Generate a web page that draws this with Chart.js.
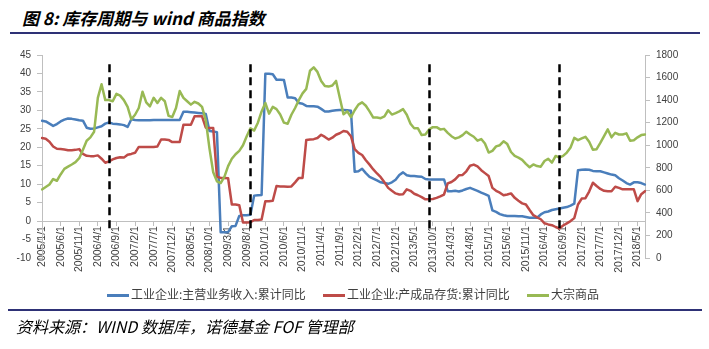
<!DOCTYPE html>
<html>
<head>
<meta charset="utf-8">
<script src="https://cdn.jsdelivr.net/npm/chart.js@4.4.0/dist/chart.umd.min.js"></script>
<style>
  body { margin: 0; width: 709px; height: 349px; background: #fff; position: relative; overflow: hidden;
         font-family: "Noto Sans CJK SC", sans-serif; }
  #title { position: absolute; left: 22px; top: 5px; font-size: 17px; font-weight: bold; font-style: italic; color: #000; }
  .rule { position: absolute; height: 2px; background: #2E3176; }
  #legend { position: absolute; top: 285px; left: 0; width: 709px; font-size: 12px; color: #404040; }
  .item { position: absolute; top: 0; white-space: nowrap; }
  .swatch { display: inline-block; width: 22px; height: 2.5px; vertical-align: middle; margin-right: 2px; }
  #source { position: absolute; left: 16px; top: 314px; font-size: 16px; font-style: italic; color: #000; }
  #wrap { position: absolute; left: 0; top: 0; width: 709px; height: 349px; }
</style>
</head>
<body>
<div id="title">图 8: 库存周期与 wind 商品指数</div>
<div class="rule" style="left:10px; width:690px; top:32px;"></div>
<div id="wrap"><canvas id="chart"></canvas></div>
<div id="legend"></div>
<div class="rule" style="left:8px; width:694px; top:309px;"></div>
<div id="source">资料来源：WIND 数据库，诺德基金 FOF 管理部</div>
<script>
// monthly categories 2005/1 .. 2018/7
const startYear = 2005, startMonth = 1, monthCount = 163;
const months = [];
for (let k = 0; k < monthCount; k++) {
  const m = startMonth - 1 + k;
  months.push(`${startYear + Math.floor(m / 12)}/${(m % 12) + 1}/1`);
}

const seriesNames = ['工业企业:主营业务收入:累计同比', '工业企业:产成品存货:累计同比', '大宗商品'];

// 主营业务收入 累计同比 (%)
const revenueYoY = [
  27.2, 27.0, 26.4, 25.8, 26.3, 27.0, 27.5, 27.8, 27.7, 27.5,
  27.3, 27.2, 25.3, 25.0, 25.1, 25.4, 25.7, 26.4, 26.7, 26.4,
  26.3, 26.2, 26.0, 25.5, 27.6, 27.4, 27.3, 27.3, 27.3, 27.3,
  27.4, 27.4, 27.4, 27.4, 27.4, 27.4, 27.4, 27.4, 29.6, 29.6,
  29.5, 29.4, 29.3, 29.2, 29.0, 24.4, 24.3, 24.1, -3.0, -3.0,
  -3.0, -1.4, -1.3, 1.4, 1.6, 1.6, 1.7, 6.9, 7.0, 7.1,
  39.9, 39.9, 39.8, 38.3, 38.3, 38.2, 33.5, 33.5, 33.3, 32.0,
  31.8, 31.2, 31.1, 31.1, 31.0, 30.4, 29.7, 29.7, 29.9, 30.0,
  30.1, 30.1, 30.0, 29.9, 13.4, 13.5, 14.2, 13.0, 12.0, 11.5,
  11.0, 10.5, 10.3, 10.1, 10.5, 11.2, 12.5, 13.2, 12.4, 12.2,
  12.2, 12.1, 12.0, 11.4, 11.3, 11.3, 11.3, 11.3, 11.3, 8.1,
  8.1, 8.2, 8.0, 8.3, 8.7, 9.0, 8.6, 8.2, 7.7, 7.3,
  6.8, 2.9, 2.5, 1.9, 1.6, 1.4, 1.4, 1.4, 1.3, 1.3,
  1.1, 0.9, 0.9, 0.9, 1.8, 2.4, 2.6, 3.0, 3.2, 3.4,
  3.6, 3.8, 4.2, 4.7, 13.8, 13.9, 14.0, 13.9, 13.6, 13.5,
  13.5, 13.2, 12.9, 12.6, 12.4, 11.6, 11.0, 10.3, 9.9, 10.5,
  10.5, 10.3, 9.9
];

// 产成品存货 累计同比 (%)
const inventoryYoY = [
  22.5, 22.3, 21.5, 20.2, 19.6, 19.5, 19.4, 19.2, 19.2, 19.3,
  19.5, 18.2, 17.7, 17.6, 17.6, 17.8, 16.9, 15.8, 16.2, 16.7,
  17.1, 17.3, 17.2, 18.0, 18.2, 18.5, 20.1, 20.1, 20.1, 20.1,
  20.1, 20.2, 22.1, 22.1, 22.0, 21.4, 21.4, 21.4, 26.1, 26.1,
  26.1, 28.4, 28.4, 28.4, 25.3, 25.2, 25.2, 12.0, 11.7, 11.7,
  11.6, 4.5, 4.5, 4.3, -0.4, -0.4, -0.3, 0.3, 0.3, 0.4,
  5.4, 5.4, 5.5, 9.5, 9.4, 9.4, 9.3, 9.4, 10.5, 11.7,
  11.7, 22.0, 22.1, 22.2, 22.5, 23.4, 22.8, 22.1, 22.6, 23.4,
  23.8, 24.4, 24.2, 23.0, 19.5, 18.5, 17.9, 16.5, 15.3, 14.0,
  12.9, 11.9, 10.5, 9.0, 8.2, 7.5, 7.2, 7.3, 8.6, 8.2,
  7.4, 7.0, 6.5, 5.9, 5.9, 6.0, 6.3, 6.7, 7.2, 10.2,
  10.6, 11.3, 12.4, 12.5, 13.5, 15.0, 15.3, 14.8, 13.8, 13.0,
  12.2, 9.0, 8.2, 7.7, 7.0, 7.2, 7.5, 6.3, 5.5, 4.8,
  4.5, 3.0, 1.6, 1.0, 0.5, -0.6, -0.9, -1.1, -1.6, -2.0,
  -1.2, -0.6, 0.0, 0.8, 4.5, 6.1, 6.2, 8.0, 10.4, 9.5,
  8.7, 8.2, 8.1, 8.1, 9.3, 9.0, 8.6, 8.6, 8.6, 8.6,
  5.4, 7.3, 8.1
];

// wind 大宗商品指数 (right axis)
const commodityIndex = [
  608, 630, 652, 700, 685, 741, 790, 810, 829, 850,
  885, 960, 1040, 1070, 1120, 1420, 1540, 1400, 1400, 1390,
  1455, 1440, 1400, 1340, 1230, 1270, 1330, 1475, 1380, 1345,
  1420, 1375, 1420, 1390, 1260, 1250, 1330, 1480, 1420, 1390,
  1360, 1385, 1370, 1340, 1220, 970, 760, 680, 665, 720,
  815, 880, 920, 950, 1000, 1080, 1150, 1130, 1200, 1300,
  1375, 1280, 1340, 1320, 1272, 1200, 1190, 1270, 1330, 1400,
  1460, 1500, 1660, 1690, 1650, 1570, 1525, 1520, 1530, 1570,
  1420, 1275, 1300, 1250, 1310, 1360, 1380, 1350, 1300, 1245,
  1245, 1240, 1255, 1310, 1272, 1285, 1300, 1320, 1270, 1190,
  1150, 1150, 1090, 1095, 1140, 1160, 1160, 1140, 1145, 1110,
  1080, 1060, 1070, 1090, 1120, 1095, 1075, 1040, 1055, 1015,
  935, 950, 990, 1000, 1035, 1010, 940, 905, 890, 870,
  835, 805, 830, 815, 810, 860, 880, 845, 905, 890,
  905, 935, 980, 1065, 1045, 1060, 1075, 1030, 960, 965,
  1020, 1080, 1140, 1070, 1110, 1095, 1095, 1105, 1040, 1045,
  1070, 1090, 1095
];

// inventory cycle turning points (dashed markers)
const cycleTurns = ['2006/7/1', '2009/9/1', '2013/9/1', '2016/8/1'];

const colors = ['#4A7EBB', '#BE4B48', '#98B954'];

const legendEl = document.getElementById('legend');
const legendX = [107, 323, 527];
seriesNames.forEach((name, i) => {
  const d = document.createElement('div');
  d.className = 'item';
  d.style.left = legendX[i] + 'px';
  d.innerHTML = `<span class="swatch" style="background:${colors[i]}"></span>${name}`;
  legendEl.appendChild(d);
});

const cycleLines = {
  id: 'cycleLines',
  afterDatasetsDraw(chart) {
    const { ctx, scales: { x, y } } = chart;
    ctx.save();
    ctx.strokeStyle = '#000';
    ctx.lineWidth = 2.5;
    ctx.setLineDash([8, 5]);
    cycleTurns.forEach(t => {
      const px = Math.round(x.getPixelForValue(months.indexOf(t))) + 0.5;
      ctx.beginPath();
      ctx.moveTo(px, y.getPixelForValue(42.5));
      ctx.lineTo(px, y.getPixelForValue(-3));
      ctx.stroke();
    });
    ctx.restore();
  }
};

const axisFont = { family: '"Liberation Sans", Arial, sans-serif', size: 10 };

new Chart(document.getElementById('chart'), {
  type: 'line',
  data: {
    labels: months,
    datasets: [
      { label: seriesNames[0], data: revenueYoY, yAxisID: 'y', borderColor: colors[0], order: 3 },
      { label: seriesNames[1], data: inventoryYoY, yAxisID: 'y', borderColor: colors[1], order: 2 },
      { label: seriesNames[2], data: commodityIndex, yAxisID: 'y2', borderColor: colors[2], order: 1 },
    ],
  },
  options: {
    responsive: true,
    maintainAspectRatio: false,
    animation: false,
    layout: { padding: { left: 0, right: 24, top: 55, bottom: 91 } },
    elements: {
      point: { radius: 0 },
      line: { borderWidth: 2.5, tension: 0, borderCapStyle: 'round', borderJoinStyle: 'round' },
    },
    plugins: { legend: { display: false }, tooltip: { enabled: false } },
    scales: {
      x: {
        position: { y: 0 },
        offset: false,
        grid: {
          drawOnChartArea: false,
          tickLength: 4,
          color: c => (c.index % 5 === 0 ? '#BFBFBF' : 'rgba(0,0,0,0)'),
        },
        border: { color: '#BFBFBF', width: 1 },
        ticks: {
          autoSkip: false,
          maxRotation: 90,
          minRotation: 90,
          padding: 1,
          color: '#404040',
          font: { family: axisFont.family, size: 10.5 },
          callback: (v, i) => (i % 5 === 0 ? months[i] : ''),
        },
      },
      y: {
        position: 'left',
        min: -10, max: 45,
        grid: { drawOnChartArea: false, tickLength: 5, color: '#BFBFBF' },
        border: { color: '#BFBFBF' },
        ticks: { stepSize: 5, padding: 6, color: '#404040', font: axisFont },
        afterFit: s => { s.width = 42; },
      },
      y2: {
        position: 'right',
        min: 0, max: 1800,
        grid: { drawOnChartArea: false, tickLength: 5, color: '#BFBFBF' },
        border: { color: '#BFBFBF' },
        ticks: { stepSize: 200, padding: 6, color: '#404040', font: axisFont, callback: v => String(v) },
        afterFit: s => { s.width = 40; },
      },
    },
  },
  plugins: [cycleLines],
});
</script>
</body>
</html>
